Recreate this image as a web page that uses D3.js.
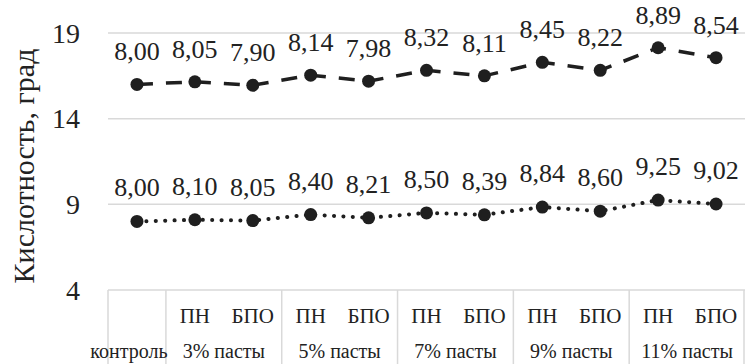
<!DOCTYPE html>
<html><head><meta charset="utf-8">
<script src="https://cdn.jsdelivr.net/npm/d3@7"></script>
<style>body{margin:0;background:#fff}svg{display:block}</style>
</head><body><div id="chart"></div>
<script>
const inner = ["", "ПН","БПО","ПН","БПО","ПН","БПО","ПН","БПО","ПН","БПО"];
const groups = ["контроль","3% пасты","5% пасты","7% пасты","9% пасты","11% пасты"];
const groupSpan = [1,2,2,2,2,2];
const lower = [8.00,8.10,8.05,8.40,8.21,8.50,8.39,8.84,8.60,9.25,9.02];
const upper = [8.00,8.05,7.90,8.14,7.98,8.32,8.11,8.45,8.22,8.89,8.54];
const yTicks = [4,9,14,19];
const yTitle = "Кислотность, град";

const W=745,H=364;
const svg=d3.select("#chart").append("svg").attr("width",W).attr("height",H)
 .attr("font-family","Liberation Serif");
const x=d3.scaleBand().domain(d3.range(inner.length)).range([108,745]);
const y=d3.scaleLinear().domain([4,19]).range([290,33]);
const fmt=v=>v.toFixed(2).replace(".",",");
const ink="#222";

svg.append("g").selectAll("line").data(yTicks).join("line")
 .attr("x1",108).attr("x2",745).attr("y1",d=>y(d)).attr("y2",d=>y(d))
 .attr("stroke","#d9d9d9").attr("stroke-width",1.5);
svg.append("g").selectAll("text").data(yTicks).join("text")
 .attr("x",80).attr("y",d=>y(d)).attr("dy","0.35em").attr("text-anchor","end")
 .attr("font-size",28).attr("fill",ink).text(d=>d);
svg.append("text").attr("transform","translate(34,166) rotate(-90)")
 .attr("text-anchor","middle").attr("font-size",30).attr("fill",ink).text(yTitle);

let bounds=[0]; groupSpan.reduce((a,s)=>{bounds.push(a+s);return a+s;},0);
svg.append("g").selectAll("line").data(bounds).join("line")
 .attr("x1",d=>d<inner.length?x(d):x.range()[1]-1).attr("x2",d=>d<inner.length?x(d):x.range()[1]-1)
 .attr("y1",290).attr("y2",H).attr("stroke","#d9d9d9").attr("stroke-width",1.5);
svg.append("g").selectAll("text").data(inner).join("text")
 .attr("x",(d,i)=>x(i)+x.bandwidth()/2).attr("y",323).attr("text-anchor","middle")
 .attr("font-size",21).attr("fill",ink).text(d=>d);
svg.append("g").selectAll("text").data(groups).join("text")
 .attr("x",(d,i)=>{const a=bounds[i],b=bounds[i+1];return (x(a)+x(b-1)+x.bandwidth())/2+(groupSpan[i]===1?-8:0);})
 .attr("y",358).attr("text-anchor","middle").attr("font-size",20).attr("fill",ink).text(d=>d);

const cx=i=>x(i)+x.bandwidth()/2;
const stacked=upper.map((v,i)=>v+lower[i]);
const line=d3.line().x((d,i)=>cx(i)).y(d=>y(d));
svg.append("path").datum(lower).attr("d",line).attr("fill","none").attr("stroke","#1f1f1f")
 .attr("stroke-width",4).attr("stroke-linecap","round").attr("stroke-dasharray","0.1,9.3");
svg.append("path").datum(stacked).attr("d",line).attr("fill","none").attr("stroke","#1f1f1f")
 .attr("stroke-width",3.5).attr("stroke-dasharray","16,13");
[lower,stacked].forEach(s=>{
 svg.append("g").selectAll("circle").data(s).join("circle")
  .attr("cx",(d,i)=>cx(i)).attr("cy",d=>y(d)).attr("r",6.5).attr("fill","#1f1f1f");
});
svg.append("g").selectAll("text").data(lower).join("text")
 .attr("x",(d,i)=>cx(i)).attr("y",d=>y(d)-25).attr("text-anchor","middle").attr("font-size",26).attr("fill",ink).text(fmt);
svg.append("g").selectAll("text").data(upper).join("text")
 .attr("x",(d,i)=>cx(i)).attr("y",(d,i)=>y(stacked[i])-24).attr("text-anchor","middle").attr("font-size",26).attr("fill",ink).text(fmt);
</script></body></html>
